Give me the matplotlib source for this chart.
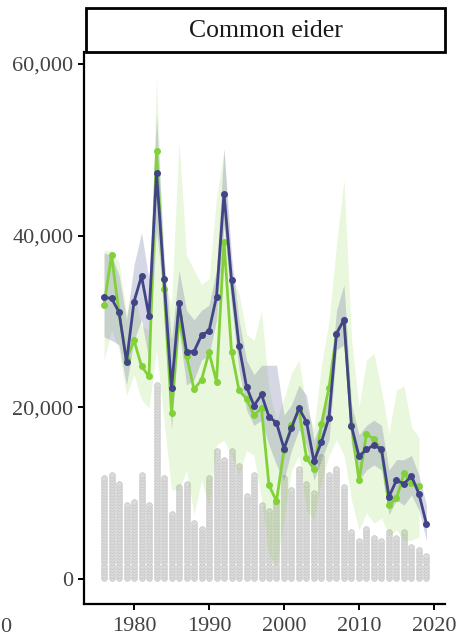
import matplotlib
matplotlib.use("Agg")
import matplotlib.pyplot as plt
from matplotlib.patches import Rectangle
from matplotlib.ticker import FuncFormatter
import numpy as np

plt.rcParams['font.family'] = ['Liberation Serif', 'DejaVu Serif']

# survey years
years = list(range(1976, 2020))

# number of counts per year (grey dot columns)
n_counts = [34, 35, 32, 25, 26, 35, 25, 65, 34, 22, 31, 32, 19, 17, 34, 43,
            40, 43, 38, 28, 35, 25, 23, 26, 34, 30, 37, 32, 29, 41, 35, 37,
            31, 16, 13, 17, 14, 13, 16, 14, 16, 11, 10, 8]

# model estimate (dark blue), thousands of birds
model_mean = [32.8, 32.7, 31.1, 25.3, 32.3, 35.3, 30.6, 47.3, 35.0, 22.2,
              32.1, 26.5, 26.5, 28.4, 28.9, 32.9, 44.9, 34.8, 27.2, 22.4,
              20.2, 21.5, 18.9, 18.2, 15.2, 17.6, 19.9, 18.3, 13.7, 16.0,
              18.8, 28.6, 30.2, 17.8, 14.3, 15.1, 15.6, 15.1, 9.6, 11.5,
              11.1, 12.0, 9.9, 6.4]
model_hi = [38.0, 37.7, 35.4, 30.2, 36.6, 40.4, 34.8, 54.1, 37.7, 27.8,
            36.0, 31.3, 30.2, 31.3, 31.9, 36.0, 50.2, 37.7, 30.2, 25.5,
            23.8, 24.9, 24.9, 24.9, 19.1, 20.3, 22.6, 21.4, 16.2, 18.5,
            21.4, 31.3, 34.3, 20.3, 16.8, 17.9, 18.5, 17.9, 12.7, 13.9,
            13.9, 14.4, 12.1, 8.6]
model_lo = [28.2, 27.8, 27.3, 22.6, 27.8, 30.2, 25.5, 40.7, 32.5, 17.4,
            29.0, 22.6, 23.2, 25.5, 26.1, 30.2, 41.2, 31.9, 24.4, 19.7,
            17.9, 18.5, 15.6, 13.3, 11.5, 15.0, 17.4, 15.6, 11.5, 13.9,
            16.2, 26.7, 27.3, 15.6, 11.5, 12.7, 13.3, 12.7, 7.5, 9.2,
            8.6, 9.8, 8.0, 4.5]

# raw count index (green), 1976-2018
count_years = list(range(1976, 2019))
count_mean = [31.9, 37.7, 31.0, 25.6, 27.8, 24.8, 23.6, 49.9, 33.8, 19.4,
              30.5, 26.0, 22.1, 23.2, 26.4, 23.0, 39.3, 26.5, 22.0, 21.0,
              19.1, 19.9, 10.9, 9.1, 15.0, 17.9, 19.7, 14.1, 12.8, 18.1,
              22.3, 28.6, 30.2, 17.9, 11.5, 16.9, 16.3, 15.0, 8.6, 9.4,
              12.3, 11.2, 10.8]
count_hi = [38.3, 38.3, 36.9, 31.0, 33.5, 29.5, 29.0, 58.4, 35.0, 32.0,
            51.0, 37.7, 36.0, 34.3, 35.0, 44.4, 50.0, 35.5, 33.3, 28.5,
            27.8, 31.3, 22.0, 18.5, 21.0, 24.0, 25.5, 20.0, 17.5, 25.0,
            30.0, 39.0, 46.5, 28.0, 20.0, 25.5, 26.3, 22.0, 17.0, 22.0,
            22.5, 17.7, 16.5]
count_lo = [25.5, 29.0, 26.7, 21.4, 23.8, 20.9, 19.9, 26.7, 18.5, 10.4,
            10.4, 12.7, 7.5, 11.5, 8.6, 15.6, 16.2, 14.4, 12.1, 15.0,
            14.4, 9.2, 2.8, 1.6, 6.9, 12.7, 14.4, 8.0, 6.9, 11.5,
            14.4, 16.2, 14.4, 9.2, 5.7, 7.7, 6.5, 7.1, 5.1, 5.7,
            4.5, 4.5, 4.9]

BLUE = '#414487'
GREEN = '#82d138'
DOT_STEP = 350  # birds per stacked dot

fig = plt.figure(figsize=(4.57, 6.39), dpi=100)
ax = fig.add_axes([84 / 457, 35 / 639, 361 / 457, 552 / 639])

# stacked dot columns
for yr, n in zip(years, n_counts):
    ys = (np.arange(n) + 0.5) * DOT_STEP
    ax.plot([yr] * n, ys, 'o', ms=4.1, mfc='#dadada', mec='#c6c6c6',
            mew=0.5, zorder=1, clip_on=False)

k = 1000.0
ax.fill_between(count_years, np.array(count_lo) * k, np.array(count_hi) * k,
                color=GREEN, alpha=0.17, lw=0, zorder=2)
ax.fill_between(years, np.array(model_lo) * k, np.array(model_hi) * k,
                color=BLUE, alpha=0.21, lw=0, zorder=3)

ax.plot(count_years, np.array(count_mean) * k, '-o', color=GREEN, lw=2.0,
        ms=4, zorder=4)
ax.plot(years, np.array(model_mean) * k, '-o', color=BLUE, lw=2.0,
        ms=4, zorder=5)

ax.set_xlim(1973.33, 2021.47)
ax.set_ylim(-2910, 61400)
ax.set_xticks([1980, 1990, 2000, 2010, 2020])
ax.set_yticks([0, 20000, 40000, 60000])
ax.yaxis.set_major_formatter(FuncFormatter(lambda v, p: f'{int(v):,}'))

for side in ['top', 'right']:
    ax.spines[side].set_visible(False)
for side in ['left', 'bottom']:
    ax.spines[side].set_linewidth(1.6)
ax.tick_params(axis='both', length=4.5, width=1.4, color='black',
               labelsize=16, labelcolor='#444444')
ax.tick_params(axis='x', pad=5)
ax.tick_params(axis='y', pad=3)

# facet strip
strip = Rectangle((86 / 457, 1 - 52 / 639), 359 / 457, 44 / 639,
                  transform=fig.transFigure, fill=False, lw=2.0,
                  edgecolor='black')
fig.patches.append(strip)
fig.text((86 + 445) / 2 / 457, 1 - 31 / 639, 'Common eider',
         ha='center', va='center', fontsize=18.5, color='#1a1a1a')

# tail of the neighbouring panel's axis label
fig.text(0.5 / 457, 1 - 628 / 639, '0', ha='left', va='center',
         fontsize=16, color='#444444')

fig.savefig('out.png', dpi=100)
